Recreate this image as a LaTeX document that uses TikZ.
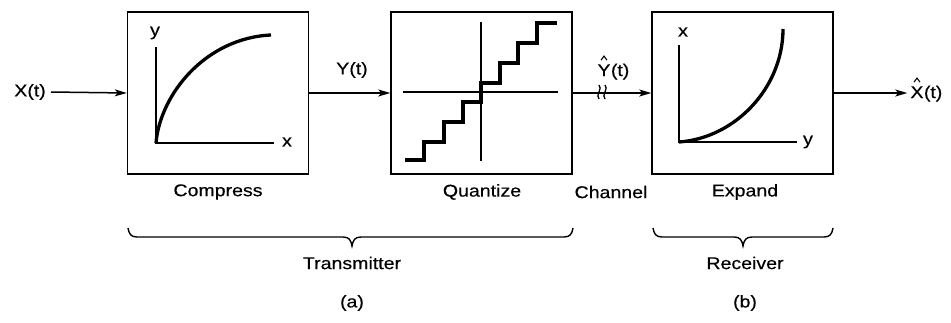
\documentclass[tikz,border=0pt]{standalone}
\usepackage{fontspec}
\setmainfont{Liberation Sans}[FakeStretch=1.15,FakeBold=0.4]
\usetikzlibrary{arrows.meta}
\begin{document}
\begin{tikzpicture}[x=1pt,y=-1pt,
  font=\fontsize{17}{20}\selectfont,
  blk/.style={draw,line width=1.5pt,rectangle,minimum width=181pt,minimum height=162pt,inner sep=0pt},
  sig/.style={line width=1.5pt},
  arr/.style={sig,-{Stealth[length=12pt,width=7pt,inset=3pt]}},
  axis/.style={line width=1.3pt},
  curve/.style={line width=3.3pt},
  lbl/.style={inner sep=2pt},
  lt/.style={inner sep=0pt},
  hatst/.style={line width=1.1pt},
  brc/.style={line width=1.4pt}]
\useasboundingbox (0,0) rectangle (951,322);
% blocks
\node[blk] (comp) at (218,93) {};
\node[blk] (quant) at (481.5,93) {};
\node[blk] (exp) at (742.5,93) {};
% signal labels
\node[lbl,anchor=east] (xt) at (48,92) {X(t)};
\node[lbl] (yt) at (352,70) {Y(t)};
\node[lt,anchor=base] (yhY) at (604,76) {Y};
\node[lt,anchor=base west] (yhT) at (yhY.base east) {(t)};
\draw[hatst] ([xshift=-3pt,yshift=4pt]yhY.north) -- ([yshift=8pt]yhY.north) -- ([xshift=3pt,yshift=4pt]yhY.north);
\node[lt,anchor=base] (xhX) at (917,98) {X};
\node[lt,anchor=base west] (xhT) at (xhX.base east) {(t)};
\draw[hatst] ([xshift=-3pt,yshift=4pt]xhX.north) -- ([yshift=8pt]xhX.north) -- ([xshift=3pt,yshift=4pt]xhX.north);
% connectors
\draw[arr] (xt.east) ++(3,0) -- (comp.west);
\draw[arr] (comp.east) -- (quant.west);
\draw[arr] (quant.east) -- (exp.west);
\draw[arr] (exp.east) -- ([xshift=-3pt]xhX.west |- exp.east);
% channel squiggle
\foreach \sx in {599,605}{
  \draw[line width=1.3pt] (\sx,85) .. controls (\sx+4,88) and (\sx-4,96) .. (\sx,99);
}
% compress curve
\coordinate (c0) at (156,143);
\draw[axis] (156,47) -- (c0) -- (274,143);
\node[lbl] (cy) at (155,33) {y};
\node[lbl] (cx) at (287,142) {x};
\draw[curve] (c0) .. controls (160,95) and (205,38) .. (271,35);
% quantize staircase
\draw[axis] (481,22) -- (481,161);
\draw[axis] (403,92) -- (558,92);
\draw[curve] (405,160) -- (424,160) -- (424,142) -- (444,142) -- (444,122) -- (463,122) -- (463,102)
  -- (481,102) -- (481,83) -- (500,83) -- (500,63) -- (518,63) -- (518,43) -- (537,43) -- (537,23) -- (557,23);
% expand curve
\coordinate (e0) at (679,142);
\draw[axis] (679,45) -- (e0) -- (797,142);
\node[lbl] (ex) at (683,32) {x};
\node[lbl] (ey) at (808,142) {y};
\draw[curve] (e0) .. controls (735,138) and (783,88) .. (783,29);
% captions
\node[lbl] (tcomp) at (218,192) {Compress};
\node[lbl] (tquant) at (482,192) {Quantize};
\node[lbl] (tchan) at (611,192) {Channel};
\node[lbl] (texp) at (745,192) {Expand};
% braces
\draw[brc] (128,228) .. controls (129,234) and (131,237) .. (137,237) -- (343,237)
  .. controls (349,237) and (351,240) .. (352,246) .. controls (353,240) and (355,237) .. (361,237)
  -- (564,237) .. controls (570,237) and (572,234) .. (573,228);
\draw[brc] (653,228) .. controls (654,234) and (656,237) .. (662,237) -- (734,237)
  .. controls (740,237) and (742,240) .. (743,246) .. controls (744,240) and (746,237) .. (752,237)
  -- (824,237) .. controls (830,237) and (832,234) .. (833,228);
\node[lbl] (ttx) at (352,263) {Transmitter};
\node[lbl] (trx) at (745,263) {Receiver};
\node[lbl] (ta) at (352,303) {(a)};
\node[lbl] (tb) at (745,303) {(b)};
\end{tikzpicture}
\end{document}
